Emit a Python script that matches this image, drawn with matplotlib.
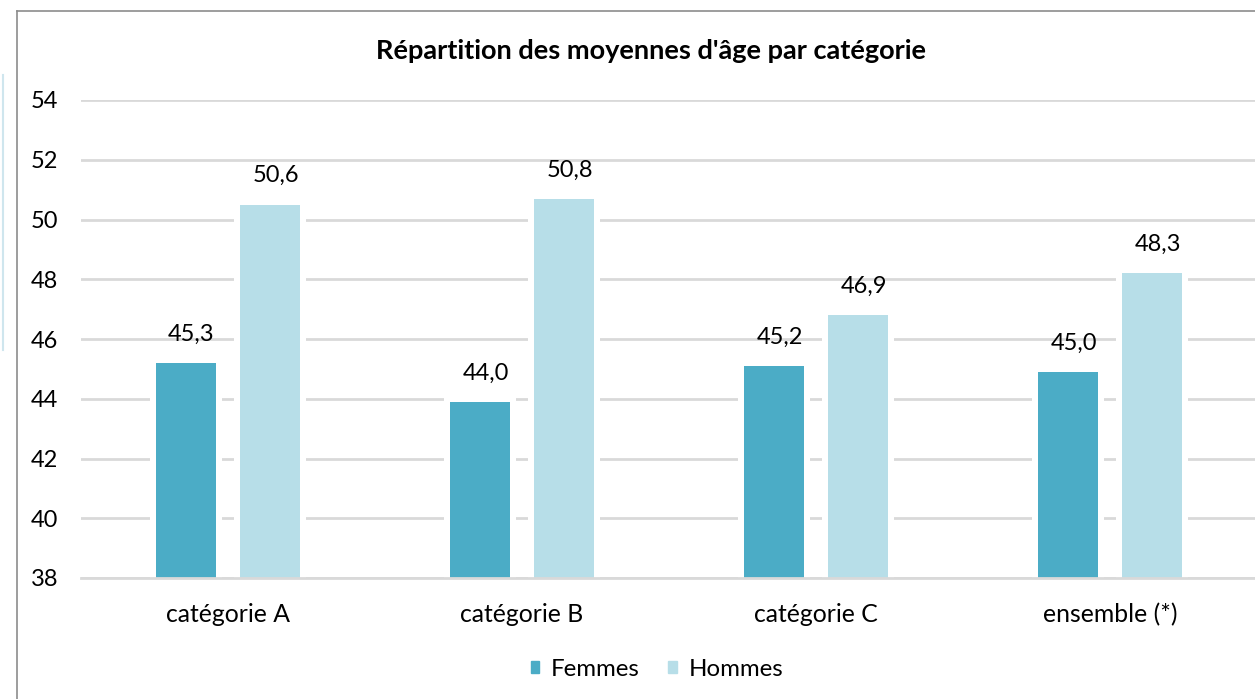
import matplotlib.pyplot as plt
import numpy as np
from matplotlib.lines import Line2D
from matplotlib.patches import Rectangle

categories = ['catégorie A', 'catégorie B', 'catégorie C', 'ensemble (*)']
femmes = [45.2, 43.9, 45.1, 44.9]
hommes = [50.5, 50.7, 46.8, 48.2]
femmes_labels = ['45,3', '44,0', '45,2', '45,0']
hommes_labels = ['50,6', '50,8', '46,9', '48,3']
yticks = [38, 40, 42, 44, 46, 48, 50, 52, 54]

col_f = '#4BACC6'
col_h = '#B7DEE8'
grid_col = '#D9D9D9'

plt.rcParams['font.family'] = ['Lato', 'DejaVu Sans']

W, H = 1255, 699
fig = plt.figure(figsize=(W / 100, H / 100), dpi=100)

# plot area in pixels
left, right, top, bottom = 81, 1257, 100, 578
ax = fig.add_axes([left / W, 1 - bottom / H, (right - left) / W, (bottom - top) / H])

x = np.arange(len(categories))
bw = 0.204
off = 0.143
pad = 0.021  # white halo around bars that cuts the gridlines

for vals, sign, col in [(femmes, -1, col_f), (hommes, 1, col_h)]:
    ax.bar(x + sign * off, np.array(vals) + 0.13 - 38, bottom=38, width=bw + 2 * pad,
           color='white', zorder=2)
    ax.bar(x + sign * off, np.array(vals) - 38, bottom=38, width=bw, color=col, zorder=3)

fs = 17
for i in range(len(categories)):
    ax.annotate(femmes_labels[i], (x[i] - off, femmes[i]), xytext=(4, 16),
                textcoords='offset points', ha='center', va='baseline', fontsize=fs, zorder=4)
    ax.annotate(hommes_labels[i], (x[i] + off, hommes[i]), xytext=(4, 16),
                textcoords='offset points', ha='center', va='baseline', fontsize=fs, zorder=4)

ax.set_xlim(-0.5, len(categories) - 0.5)
ax.set_ylim(38, 54)
ax.set_yticks(yticks)
ax.set_yticklabels([str(v) for v in yticks], fontsize=fs)
ax.set_xticks(x)
ax.set_xticklabels(categories, fontsize=17.8)
ax.tick_params(axis='both', length=0)
ax.tick_params(axis='y', pad=16.5)
ax.tick_params(axis='x', pad=18)
ax.yaxis.grid(True, color=grid_col, linewidth=2, zorder=1)
ax.set_axisbelow(True)
for s in ['top', 'right', 'left']:
    ax.spines[s].set_visible(False)
ax.spines['bottom'].set_color(grid_col)
ax.spines['bottom'].set_linewidth(2)
ax.spines['bottom'].set_zorder(5)

fig.text(651 / W, 1 - 59 / H, "Répartition des moyennes d'âge par catégorie",
         ha='center', va='baseline', fontsize=19.5, fontweight='bold')

handles = [Rectangle((0, 0), 1, 1, color=col_f), Rectangle((0, 0), 1, 1, color=col_h)]
fig.legend(handles, ['Femmes', 'Hommes'], loc='center', bbox_to_anchor=(657 / W, 1 - 669 / H),
           ncol=2, frameon=False, fontsize=17.3, handlelength=0.36, handleheight=0.36,
           handletextpad=0.47, columnspacing=1.2)

# outer chart border and the faint line on the left edge
fig.add_artist(Line2D([17 / W, 17 / W], [0, 1 - 11 / H], color='#8C8C8C', linewidth=1.2))
fig.add_artist(Line2D([17 / W, 1], [1 - 11 / H, 1 - 11 / H], color='#8C8C8C', linewidth=1.2))
fig.add_artist(Line2D([3 / W, 3 / W], [1 - 75 / H, 1 - 350 / H], color='#CFE6EE', linewidth=1.5))

fig.savefig('out.png', dpi=100)
